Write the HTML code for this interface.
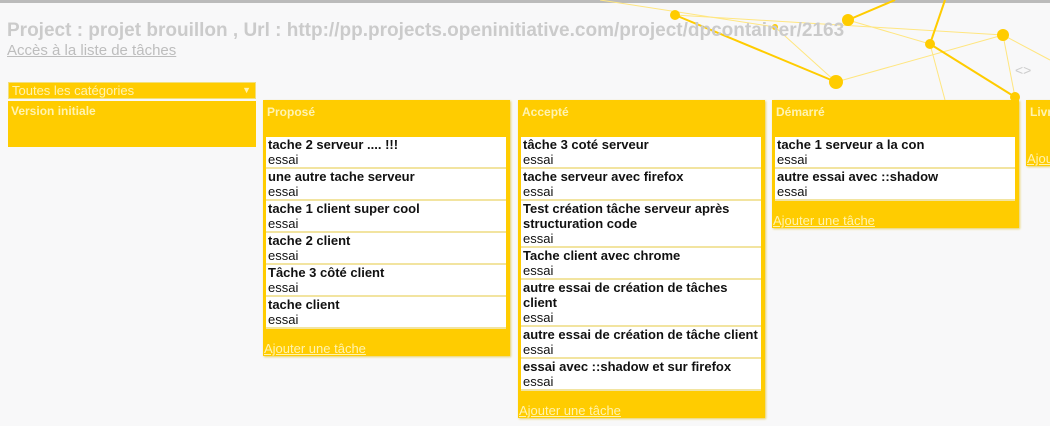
<!DOCTYPE html>
<html><head><meta charset="utf-8"><style>
*{box-sizing:border-box}
body{margin:0;width:1050px;height:426px;overflow:hidden;background:#f8f8f9;font-family:"Liberation Sans",sans-serif;position:relative}
.topline{position:absolute;left:0;top:0;width:1050px;height:3px;background:#bbb}
.title{position:absolute;left:7px;top:20px;font-size:19px;font-weight:bold;color:#cbcbcb;white-space:nowrap;z-index:2}
.link{position:absolute;left:7px;top:42px;font-size:15px;color:#bdbdbd;text-decoration:underline;z-index:2}
.sel{position:absolute;left:8px;top:82px;width:248px;height:17px;background:#ffcc00;border:1px solid #f3e07a;color:#fff3b0;font-size:13px;padding-left:3px;line-height:15px}
.sel span{position:absolute;right:4px;top:0;font-size:9px}
.ver{position:absolute;left:8px;top:101px;width:248px;height:46px;background:#ffcc00;color:#fff3b0;font-size:12px;font-weight:bold;padding:3px 3px}
.col{position:absolute;top:100px;width:247px;background:#ffcc00;box-shadow:1px 1px 2px #e8d060}
.col .h{height:37px;color:#fff3b0;font-size:12px;font-weight:bold;padding:5px 4px}
.card{background:#fff;margin:0 4px 0 3px;border-bottom:2px solid #f2e4a0;padding:0 1px 0 2px;font-size:13px;line-height:15px;color:#111}
.card b{display:block}
.add{color:#fff3b0;font-size:13px;position:absolute;left:1px;bottom:0px;text-decoration:underline;white-space:nowrap}
svg{position:absolute;left:0;top:0}
</style></head><body>
<div class="topline"></div>
<svg width="1050" height="426">
<g stroke="#ffe680" stroke-width="1" fill="none">
<line x1="675" y1="15" x2="1003" y2="35"/><line x1="775" y1="27" x2="836" y2="82"/><line x1="836" y1="82" x2="1003" y2="35"/>
<line x1="848" y1="20" x2="930" y2="44"/><line x1="930" y1="44" x2="1015" y2="97"/><line x1="1003" y1="35" x2="1050" y2="60"/>
<line x1="930" y1="44" x2="945" y2="100"/><line x1="600" y1="0" x2="775" y2="27"/><line x1="1003" y1="35" x2="1015" y2="97"/>
</g>
<g stroke="#ffcc00" stroke-width="2" fill="none">
<line x1="675" y1="15" x2="836" y2="82"/><line x1="848" y1="20" x2="895" y2="0"/><line x1="930" y1="44" x2="945" y2="0"/>
<line x1="930" y1="44" x2="1015" y2="97"/>
</g>
<g fill="#ffcc00">
<circle cx="675" cy="15" r="5"/><circle cx="775" cy="27" r="3"/><circle cx="848" cy="20" r="6"/><circle cx="930" cy="44" r="5"/>
<circle cx="1003" cy="35" r="6"/><circle cx="836" cy="82" r="7"/><circle cx="1015" cy="97" r="5"/>
</g>
<text x="1015" y="75" font-size="14" fill="#ccc" font-family="Liberation Sans">&lt;&gt;</text>
</svg>
<div class="title">Project : projet brouillon , Url : http://pp.projects.openinitiative.com/project/dpcontainer/2163</div>
<div class="link">Accès à la liste de tâches</div>
<div class="sel">Toutes les catégories<span>▼</span></div>
<div class="ver">Version initiale</div>

<div class="col" style="left:263px;height:256px">
<div class="h">Proposé</div>
<div class="card"><b>tache 2 serveur .... !!!</b>essai</div>
<div class="card"><b>une autre tache serveur</b>essai</div>
<div class="card"><b>tache 1 client super cool</b>essai</div>
<div class="card"><b>tache 2 client</b>essai</div>
<div class="card"><b>Tâche 3 côté client</b>essai</div>
<div class="card"><b>tache client</b>essai</div>
<div class="add">Ajouter une tâche</div>
</div>

<div class="col" style="left:518px;height:318px">
<div class="h">Accepté</div>
<div class="card"><b>tâche 3 coté serveur</b>essai</div>
<div class="card"><b>tache serveur avec firefox</b>essai</div>
<div class="card"><b>Test création tâche serveur après structuration code</b>essai</div>
<div class="card"><b>Tache client avec chrome</b>essai</div>
<div class="card"><b>autre essai de création de tâches client</b>essai</div>
<div class="card"><b>autre essai de création de tâche client</b>essai</div>
<div class="card"><b>essai avec ::shadow et sur firefox</b>essai</div>
<div class="add">Ajouter une tâche</div>
</div>

<div class="col" style="left:772px;height:128px">
<div class="h">Démarré</div>
<div class="card"><b>tache 1 serveur a la con</b>essai</div>
<div class="card"><b>autre essai avec ::shadow</b>essai</div>
<div class="add">Ajouter une tâche</div>
</div>

<div class="col" style="left:1026px;width:24px;height:66px;overflow:hidden">
<div class="h">Livré</div>
<div class="add">Ajouter</div>
</div>
</body></html>
